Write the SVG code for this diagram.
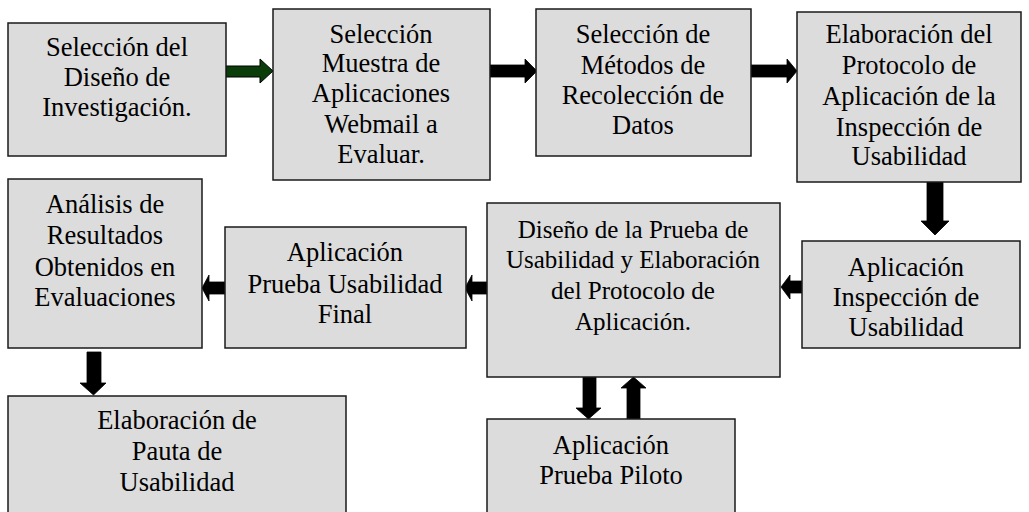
<svg xmlns="http://www.w3.org/2000/svg" width="1029" height="512" viewBox="0 0 1029 512">
<style>
.box{fill:#dcdcdc;stroke:#1a1a1a;stroke-width:1.5}
text{font-family:"Liberation Serif","Times New Roman",serif;font-size:26.5px;fill:#000;text-anchor:middle}
#n8 text{font-size:25px}
.arr{fill:#000;stroke:#000;stroke-width:0.8}
.garr{fill:#0b3d0b;stroke:#000;stroke-width:1}
</style>
<rect width="1029" height="512" fill="#fff"/>
<g id="connectors">
<polygon class="garr" points="226,66 260,66 260,59 273,71 260,83 260,77 226,77"/>
<polygon class="arr" points="490,65 525,65 525,59 537,71 525,83 525,77 490,77"/>
<polygon class="arr" points="751,65 787,65 787,59 797,71 787,83 787,77 751,77"/>
<polygon class="arr" points="927,182 943,182 943,221 949,221 935,235 921,221 927,221"/>
<polygon class="arr" points="802,281 790,281 790,275 781,287 790,299 790,293 802,293"/>
<polygon class="arr" points="225,282 209,282 209,275 202,288 209,301 209,294 225,294"/>
<polygon class="arr" points="487,282 472,282 472,275 465,288 472,301 472,294 487,294"/>
<polygon class="arr" points="87,352 101,352 101,383 106,383 93.5,395 80,383 87,383"/>
<polygon class="arr" points="583,377 596,377 596,408 601,408 588.5,419 576,408 583,408"/>
<polygon class="arr" points="627,419 640,419 640,388 646,388 633.5,377 621,388 627,388"/>
</g>
<g id="n1"><rect class="box" x="8" y="23" width="218" height="133"/>
<text x="117" y="56">Selección del</text><text x="117" y="86">Diseño de</text><text x="117" y="116">Investigación.</text></g>
<g id="n2"><rect class="box" x="273" y="9" width="217" height="171"/>
<text x="381" y="43">Selección</text><text x="381" y="72">Muestra de</text><text x="381" y="102">Aplicaciones</text><text x="381" y="133">Webmail a</text><text x="381" y="163">Evaluar.</text></g>
<g id="n3"><rect class="box" x="536" y="9" width="215" height="147"/>
<text x="643" y="43">Selección de</text><text x="643" y="74">Métodos de</text><text x="643" y="104">Recolección de</text><text x="643" y="134">Datos</text></g>
<g id="n4"><rect class="box" x="797" y="12" width="224" height="170"/>
<text x="909" y="43">Elaboración del</text><text x="909" y="74">Protocolo de</text><text x="909" y="105">Aplicación de la</text><text x="909" y="136">Inspección de</text><text x="909" y="165">Usabilidad</text></g>
<g id="n5"><rect class="box" x="8" y="179" width="194" height="169"/>
<text x="105" y="213">Análisis de</text><text x="105" y="244">Resultados</text><text x="105" y="276">Obtenidos en</text><text x="105" y="306">Evaluaciones</text></g>
<g id="n6"><rect class="box" x="225" y="227" width="241" height="121"/>
<text x="345" y="261">Aplicación</text><text x="345" y="293">Prueba Usabilidad</text><text x="345" y="323">Final</text></g>
<g id="n8"><rect class="box" x="487" y="203" width="293" height="174"/>
<text x="633" y="238">Diseño de la Prueba de</text><text x="633" y="268">Usabilidad y Elaboración</text><text x="633" y="299">del Protocolo de</text><text x="633" y="330">Aplicación.</text></g>
<g id="n9"><rect class="box" x="802" y="241" width="218" height="107"/>
<text x="906" y="276">Aplicación</text><text x="906" y="306">Inspección de</text><text x="906" y="336">Usabilidad</text></g>
<g id="n7"><rect class="box" x="8" y="396" width="338" height="130"/>
<text x="177" y="429">Elaboración de</text><text x="177" y="460">Pauta de</text><text x="177" y="491">Usabilidad</text></g>
<g id="n10"><rect class="box" x="487" y="419" width="248" height="107"/>
<text x="611" y="454">Aplicación</text><text x="611" y="484">Prueba Piloto</text></g>
</svg>
